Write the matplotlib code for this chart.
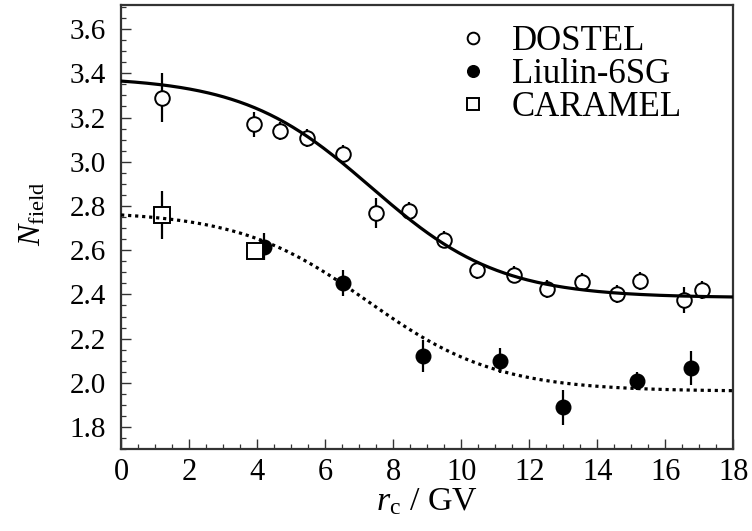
import numpy as np
import matplotlib.pyplot as plt
from matplotlib.ticker import MultipleLocator

plt.rcParams['font.family'] = 'Liberation Serif'
plt.rcParams['mathtext.fontset'] = 'custom'
plt.rcParams['mathtext.rm'] = 'Liberation Serif'
plt.rcParams['mathtext.it'] = 'Liberation Serif:italic'

# DOSTEL measurements
dostel_rc = [1.2, 3.91, 4.68, 5.48, 6.54, 7.5, 8.48, 9.5, 10.48, 11.54, 12.52, 13.55, 14.58, 15.26, 16.54, 17.08]
dostel_n = [3.29, 3.17, 3.14, 3.106, 3.035, 2.767, 2.779, 2.648, 2.51, 2.49, 2.425, 2.455, 2.402, 2.46, 2.375, 2.42]
dostel_err = [0.11, 0.057, 0.04, 0.04, 0.04, 0.068, 0.04, 0.04, 0.04, 0.04, 0.04, 0.04, 0.04, 0.04, 0.06, 0.04]

# Liulin-6SG measurements
liulin_rc = [4.19, 6.54, 8.87, 11.15, 12.99, 15.17, 16.76]
liulin_n = [2.616, 2.45, 2.121, 2.10, 1.889, 2.007, 2.068]
liulin_err = [0.06, 0.059, 0.073, 0.057, 0.078, 0.04, 0.078]

# CARAMEL measurements
caramel_rc = [1.21, 3.94]
caramel_n = [2.76, 2.595]
caramel_err = [0.11, 0.0]

# logistic fit parameters: lower level, step height, midpoint, width
fit_dostel = (2.385, 1.0, 7.35, 1.89)
fit_liulin = (1.962, 0.815, 7.25, 1.9)


def fermi(x, a, b, x0, w):
    return a + b / (1 + np.exp((x - x0) / w))


fig = plt.figure(figsize=(7.52, 5.31), dpi=100)
ax = fig.add_axes([0.161, 0.154, 0.814, 0.837])

ax.errorbar(dostel_rc, dostel_n, yerr=dostel_err, fmt='none', ecolor='black', elinewidth=1.6, zorder=2)
ax.errorbar(liulin_rc, liulin_n, yerr=liulin_err, fmt='none', ecolor='black', elinewidth=1.6, zorder=2)
ax.errorbar(caramel_rc, caramel_n, yerr=caramel_err, fmt='none', ecolor='black', elinewidth=1.6, zorder=2)

ax.plot(dostel_rc, dostel_n, 'o', ms=10.5, mfc='white', mec='black', mew=1.4, ls='none', label='DOSTEL', zorder=3)
ax.plot(liulin_rc, liulin_n, 'o', ms=10.5, mfc='black', mec='black', ls='none', label='Liulin-6SG', zorder=3)
ax.plot(caramel_rc, caramel_n, 's', ms=11, mfc='white', mec='black', mew=1.4, ls='none', label='CARAMEL', zorder=3)

xs = np.linspace(0, 18, 400)
ax.plot(xs, fermi(xs, *fit_dostel), color='black', lw=2.3, zorder=4)
ax.plot(xs, fermi(xs, *fit_liulin), color='black', lw=2.3, ls=(0, (1, 1.2)), zorder=4)

ax.set_xlim(0, 18)
ax.set_ylim(1.70, 3.71)
ax.xaxis.set_major_locator(MultipleLocator(2))
ax.xaxis.set_minor_locator(MultipleLocator(0.5))
ax.yaxis.set_minor_locator(MultipleLocator(0.05))
ax.set_yticks(np.arange(1.8, 3.61, 0.2))
ax.set_yticklabels(['%.1f' % v for v in np.arange(1.8, 3.61, 0.2)])

ax.tick_params(which='both', direction='in', top=False, right=False, color='#333333')
ax.tick_params(which='major', length=7, width=1.0)
ax.tick_params(which='minor', length=3.5, width=0.9)
ax.tick_params(axis='x', pad=6, labelsize=22)
ax.tick_params(axis='y', pad=11, labelsize=21)
for s in ax.spines.values():
    s.set_linewidth(1.6)
    s.set_color('#333333')

ax.set_xlabel(r'$r_{\mathrm{c}}$ / GV', fontsize=24.5, labelpad=0)
ax.set_ylabel(r'$N_{\mathrm{field}}$', fontsize=23)
ax.yaxis.set_label_coords(-0.12, 0.53)

ax.legend(loc='upper left', bbox_to_anchor=(0.515, 0.997), frameon=False, fontsize=25,
          handlelength=1.0, handletextpad=0.62, labelspacing=0.0, markerscale=0.8,
          borderaxespad=0.15)

fig.savefig('out.png', dpi=100)
